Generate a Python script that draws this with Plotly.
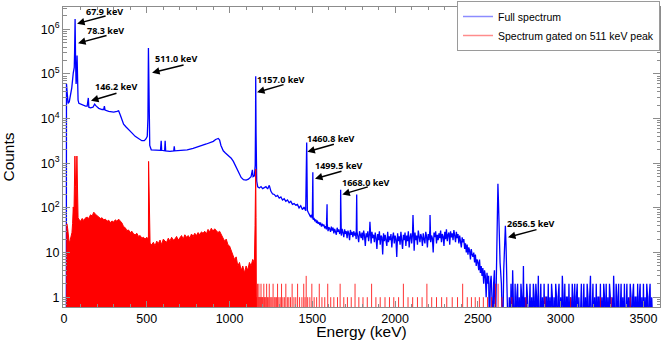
import numpy as np
import plotly.graph_objects as go

# ---- data (energy in keV, counts per bin) ----
# full spectrum, below the 1157 keV line: (keV, counts)
BLUE_LOW = [(14, 0), (15, 6e4), (20, 3.5e4), (25, 2.2e4), (32, 2.4e4), (40, 3.3e4), (47, 4.9e4),
            (56, 1.05e5), (62, 1.4e5), (64, 3e5), (67, 1.7e6), (70, 2e5), (73, 6e4), (76, 8e4),
            (79, 2.6e5), (81, 8e4), (85, 2.6e4), (90, 2.2e4), (100, 2.1e4), (115, 2.0e4), (130, 1.9e4),
            (140, 1.9e4), (147, 2.9e4), (150, 1.8e4), (160, 1.75e4), (175, 1.8e4), (185, 2.1e4),
            (195, 1.9e4), (210, 1.7e4), (230, 1.6e4), (240, 1.6e4), (244, 1.9e4), (248, 1.55e4),
            (270, 1.45e4), (300, 1.4e4), (320, 1.45e4), (330, 1.5e4), (340, 1.2e4), (350, 9e3),
            (360, 7.5e3), (375, 6.5e3), (390, 5.8e3), (410, 4.8e3), (430, 4e3), (450, 3.5e3),
            (470, 3.2e3), (485, 3.2e3), (495, 3.5e3), (503, 4e3), (507, 1e4), (510, 3.8e5), (513, 1e4),
            (518, 2.5e3), (527, 2.0e3), (560, 1.95e3), (583, 1.95e3), (587, 3.2e3), (590, 1.95e3),
            (608, 1.9e3), (611, 3.2e3), (614, 1.9e3), (640, 1.85e3), (663, 1.9e3), (666, 2.4e3),
            (669, 1.9e3), (700, 1.95e3), (744, 2.0e3), (780, 2.15e3), (823, 2.4e3), (860, 2.7e3),
            (902, 3.1e3), (916, 3.4e3), (932, 3.6e3), (940, 3.3e3), (948, 2.5e3), (955, 2.2e3),
            (962, 1.9e3), (975, 1.7e3), (993, 1.5e3), (1010, 1.3e3), (1023, 1.1e3), (1040, 800),
            (1053, 610), (1070, 480), (1084, 430), (1100, 420), (1114, 440), (1130, 500), (1138, 710),
            (1142, 500), (1150, 520), (1155, 900), (1157, 8e3), (1158, 8.9e4), (1160, 5e3), (1164, 400)]

# full spectrum 1170..1460 keV, 10 keV bins
BLUE_MID_START = 1170
BLUE_MID = [295, 280, 300, 270, 290, 300, 265, 320, 235, 205,
            200, 180, 190, 165, 175, 150, 160, 140, 150, 130,
            140, 120, 125, 115, 120, 100, 112, 92, 104, 86]

# full spectrum 1470..2610 keV, 5 keV bins (the noisy part)
BLUE_NOISE_START = 1470
BLUE_NOISE = [88, 80, 72, 66, 62, 70, 58, 54, 60, 50, 55, 46, 52, 44, 48, 41, 47, 38, 44, 40,
              42, 35, 39, 33, 44, 30, 37, 34, 29, 38, 31, 36, 27, 34, 30, 25, 36, 29, 33, 26,
              31, 24, 34, 28, 22, 33, 26, 30, 21, 31, 27, 19, 32, 25, 29, 22, 30, 24, 28, 20,
              29, 23, 17, 30, 25, 21, 28, 19, 31, 24, 14, 27, 22, 30, 18, 26, 23, 16, 29, 21,
              25, 17, 28, 21, 12, 26, 19, 30, 15, 24, 22, 9, 27, 18, 25, 20, 14, 29, 17, 23,
              19, 26, 13, 22, 28, 16, 24, 20, 8, 27, 18, 23, 15, 29, 21, 12, 25, 19, 28, 14,
              24, 18, 30, 13, 22, 27, 16, 25, 20, 11, 28, 19, 24, 15, 31, 21, 17, 26, 22, 14,
              27, 20, 16, 29, 23, 13, 26, 19, 32, 17, 24, 21, 10, 28, 22, 30, 16, 25, 19, 27,
              21, 31, 17, 26, 23, 14, 29, 20, 33, 18, 25, 28, 15, 30, 22, 27, 19, 32, 24, 17,
              29, 21, 26, 16, 24, 19, 13, 22, 17, 20, 12, 16, 10, 15, 9, 13, 11, 7, 12, 9,
              8, 10, 6, 9, 5, 7, 6, 4, 7, 3.5, 5, 3, 4.5, 2, 4, 3, 1, 3.5, 2, 3,
              0, 2, 3, 1, 0, 2, 4, 0, 3]

# sharp lines on top of the continuum
BLUE_PEAKS = [(1466, 2.9e3), (1503, 630), (1589, 120), (1671, 255), (1768, 200),
              (1848, 49), (2108, 69), (2211, 69)]

# 2614 / 2656.5 keV region
BLUE_TL = [(2612, 5), (2616, 40), (2619, 150), (2621, 345), (2624, 150), (2628, 30), (2634, 6),
           (2642, 2), (2650, 0), (2656, 4), (2661, 12), (2666, 40), (2670, 15), (2676, 3), (2683, 0)]

# full spectrum 2690..3550 keV, 5 keV bins, then empty
BLUE_HIGH_START = 2690
BLUE_HIGH = [1, 0, 2, 0, 4, 1, 0, 2, 0, 1,
             2, 0, 1, 0, 2, 1, 0, 5, 0, 1,
             0, 2, 1, 0, 1, 2, 0, 1, 0, 2,
             1, 0, 2, 1, 0, 3, 0, 1, 2, 0,
             1, 0, 2, 0, 1, 1, 0, 2, 0, 1,
             0, 2, 1, 0, 1, 0, 2, 1, 0, 1,
             2, 0, 1, 0, 3, 1, 0, 2, 0, 1,
             1, 0, 2, 0, 1, 0, 2, 1, 0, 2,
             0, 1, 2, 0, 1, 0, 1, 2, 0, 1,
             2, 0, 1, 0, 2, 1, 0, 1, 3, 0,
             1, 2, 0, 1, 0, 2, 0, 1, 1, 0,
             2, 0, 1, 0, 2, 1, 0, 2, 0, 1,
             0, 2, 1, 0, 1, 0, 3, 1, 0, 2,
             1, 0, 2, 0, 1, 2, 0, 1, 0, 2,
             0, 1, 2, 0, 1, 0, 2, 1, 0, 1,
             2, 0, 1, 1, 0, 2, 0, 1, 2, 0,
             1, 0, 2, 0, 1, 0, 2, 1, 0, 1,
             2, 0, 1]
BLUE_END = [(3560, 0)]

# gated spectrum, low part
RED_LOW = [(16, 0), (17, 44), (22, 35), (27, 22), (31, 17), (36, 18), (42, 25), (48, 28),
           (52, 45), (56, 105), (60, 70), (63, 200), (66, 1450), (70, 300), (73, 150),
           (78, 1450), (81, 120), (85, 60)]
RED_MID_START = 90
RED_MID = [56, 50, 58, 52, 60, 62, 58, 70, 66, 80,
           72, 66, 62, 58, 60, 54, 56, 50, 53, 47,
           51, 48, 54, 50, 56, 52, 46, 38, 36, 31,
           32, 28, 30, 26, 25, 27, 23, 24, 21, 22,
           20, 22, 20, 16, 15, 17, 14, 18, 16, 19,
           15, 20, 18, 17, 21, 18, 22, 19, 20, 23,
           19, 22, 24, 20, 25, 22, 24, 21, 26, 23,
           27, 24, 28, 25, 29, 27, 30, 26, 33, 29,
           35, 30, 34, 31, 28, 30, 25, 22, 18, 20,
           15, 14, 11, 9, 7, 8, 5, 6, 4, 5,
           3.5, 5, 4, 6, 5, 7, 6]
RED_PEAKS = [(511, 1100), (1154, 40), (1156, 300), (1158, 740), (1160, 60), (1163, 0)]

# gated spectrum above 1160 keV: isolated bins (keV, counts)
RED_TAIL = [(1165, 1), (1167, 1), (1169, 2), (1171, 1), (1173, 1), (1175, 1), (1177, 2), (1179, 1),
            (1182, 1), (1184, 1), (1187, 1), (1190, 2), (1193, 1), (1196, 1), (1199, 1), (1203, 1),
            (1207, 2), (1211, 1), (1215, 1), (1219, 1), (1224, 2), (1229, 1), (1234, 1), (1240, 2),
            (1245, 1), (1251, 1), (1257, 1), (1263, 2), (1270, 1), (1276, 1), (1283, 1), (1290, 2),
            (1298, 1), (1306, 1), (1314, 2), (1322, 1), (1331, 1), (1340, 2), (1349, 1), (1358, 1),
            (1368, 1), (1378, 2), (1389, 1), (1400, 1), (1411, 2), (1423, 1), (1437, 1), (1448, 2),
            (1456, 1), (1463, 3), (1472, 1), (1485, 1), (1497, 2), (1511, 1), (1526, 1), (1542, 2),
            (1558, 1), (1575, 1), (1593, 2), (1611, 1), (1630, 1), (1652, 1), (1668, 2), (1690, 1),
            (1712, 1), (1735, 1), (1758, 2), (1781, 1), (1806, 1), (1832, 1), (1858, 2), (1884, 1),
            (1910, 1), (1939, 1), (1966, 1), (1992, 1), (2021, 1), (2050, 2), (2078, 1), (2106, 1),
            (2135, 1), (2163, 1), (2192, 2), (2221, 1), (2250, 1), (2281, 1), (2312, 1), (2345, 1),
            (2377, 1), (2408, 2), (2436, 1), (2461, 1), (2484, 1), (2509, 1), (2533, 1), (2558, 1),
            (2583, 1), (2606, 2), (2622, 2), (2645, 1), (2705, 1), (2790, 1), (2905, 1), (3060, 1),
            (3240, 1), (3305, 1), (3420, 1)]

# peak labels and where their arrows point (keV, counts)
LABELS = ["67.9 keV", "78.3 keV", "146.2 keV", "511.0 keV", "1157.0 keV",
          "1460.8 keV", "1499.5 keV", "1668.0 keV", "2656.5 keV"]
LABEL_E = [79, 85, 163, 532, 1166, 1470, 1516, 1681, 2682]
LABEL_C = [1.34e6, 4.9e5, 2.5e4, 1.07e5, 3.9e4, 1.8e3, 450, 200, 22]

X_TICKS = [0, 500, 1000, 1500, 2000, 2500, 3000, 3500]
Y_TICKS = [1, 10, 1e2, 1e3, 1e4, 1e5, 1e6]
Y_TEXT = ["1", "10", "10<sup>2</sup>", "10<sup>3</sup>", "10<sup>4</sup>", "10<sup>5</sup>", "10<sup>6</sup>"]

FLOOR = 0.1  # empty bins are drawn just under the axis
GREY = "#8c8c8c"


def binned(start, vals, step=10):
    return [(start + i * step, v) for i, v in enumerate(vals)]


def series(*parts):
    pts = sorted(p for part in parts for p in part)
    e = np.array([p[0] for p in pts], float)
    c = np.array([p[1] for p in pts], float)
    return e, np.where(c > 0, c, FLOOR)


be, bc = series(BLUE_LOW, binned(BLUE_MID_START, BLUE_MID), binned(BLUE_NOISE_START, BLUE_NOISE, 5),
                BLUE_PEAKS, BLUE_TL, binned(BLUE_HIGH_START, BLUE_HIGH, 5), BLUE_END)
re_, rc = series(RED_LOW, binned(RED_MID_START, RED_MID), RED_PEAKS)
tx, ty = [], []
for e, c in RED_TAIL:
    tx += [e, e, None]
    ty += [FLOOR, c, None]

fig = go.Figure()
fig.add_trace(go.Scatter(x=be, y=bc, mode="lines", line=dict(color="#0000ff", width=1.3),
                         showlegend=False, hoverinfo="skip"))
fig.add_trace(go.Scatter(x=re_, y=rc, mode="lines", fill="toself", fillcolor="#ff0000",
                         line=dict(color="#ff0000", width=1), showlegend=False, hoverinfo="skip"))
fig.add_trace(go.Scatter(x=tx, y=ty, mode="lines", line=dict(color="#ff0000", width=1),
                         opacity=0.8, showlegend=False, hoverinfo="skip"))
# legend entries
fig.add_trace(go.Scatter(x=[None], y=[None], mode="lines", name="Full spectrum",
                         line=dict(color="#8c8cff", width=1.5)))
fig.add_trace(go.Scatter(x=[None], y=[None], mode="lines", name="Spectrum gated on 511 keV peak",
                         line=dict(color="#ff8c8c", width=1.5)))

TXT_DX = [9, 9, 4, 3, 0, 0, 0, 0, -1]
TXT_DY = [12, 13, 14, 14, 13, 13, 13, 12, 14]
ARROW_AX = [30, 30, 27, 33, 28, 28, 28, 27, 30]
for lab, e, c, dx, dy, ax in zip(LABELS, LABEL_E, LABEL_C, TXT_DX, TXT_DY, ARROW_AX):
    fig.add_annotation(x=e, y=np.log10(c), text="", showarrow=True, ax=ax, ay=-8,
                       arrowhead=2, arrowsize=1, arrowwidth=1.5, arrowcolor="black")
    fig.add_annotation(x=e, y=np.log10(c), text="<b>" + lab + "</b>", showarrow=False,
                       xanchor="left", yanchor="middle", xshift=dx - 2, yshift=dy,
                       font=dict(family="Open Sans", size=9, color="black"))

AX = dict(showline=True, linecolor=GREY, linewidth=1, mirror="ticks", ticks="inside",
          tickcolor=GREY, showgrid=False, zeroline=False)
minor_y = [k * 10.0 ** d for d in range(-1, 7) for k in range(2, 10)]
fig.update_xaxes(range=[-6, 3600], tickvals=X_TICKS, ticklen=6,
                 minor=dict(ticks="inside", ticklen=3, dtick=100, tickcolor=GREY, showgrid=False),
                 title=dict(text="Energy (keV)", font=dict(size=15.5), standoff=2), **AX)
fig.update_yaxes(type="log", range=[-0.22, 6.5], tickvals=Y_TICKS, ticktext=Y_TEXT, ticklen=7,
                 minor=dict(ticks="inside", ticklen=3.5, tickvals=minor_y, tickcolor=GREY, showgrid=False),
                 title=dict(text="Counts", font=dict(size=15.5), standoff=25), **AX)
fig.update_layout(width=661, height=340, margin=dict(l=63, r=1, t=1, b=33),
                  plot_bgcolor="white", paper_bgcolor="white",
                  font=dict(family="Liberation Sans, Arial", size=12.5, color="black"),
                  legend=dict(x=1, y=1.02, xanchor="right", yanchor="top", bgcolor="white",
                              bordercolor="#9a9a9a", borderwidth=1, font=dict(size=10.5)))
# the page's default 8px body margin would push the 661x340 figure out of the window
fig.write_html("out.html", config={"displayModeBar": False},
               post_script="document.body.style.margin='0';")
